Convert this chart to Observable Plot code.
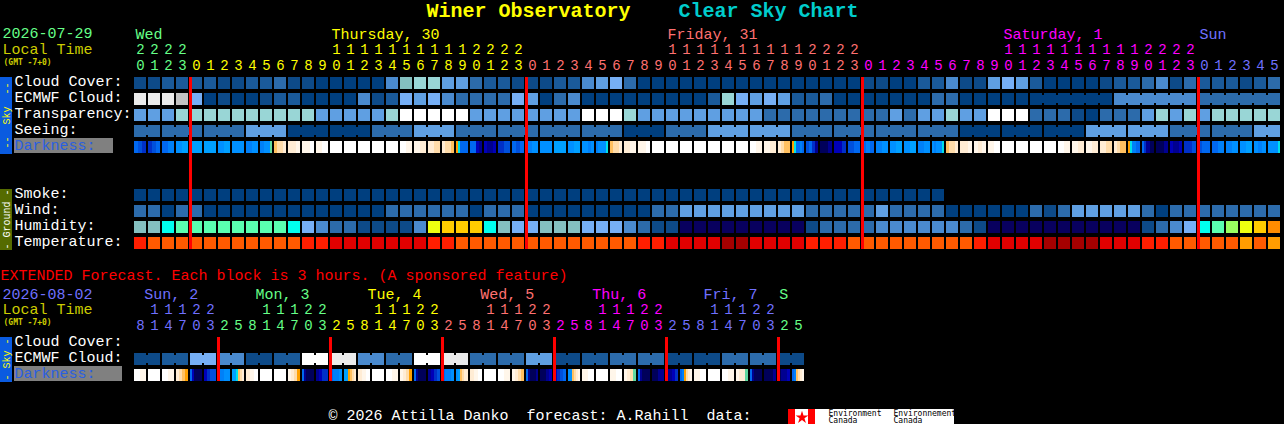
<!DOCTYPE html>
<html><head><meta charset="utf-8">
<script src="https://cdn.jsdelivr.net/npm/d3@7"></script>
<script src="https://cdn.jsdelivr.net/npm/@observablehq/plot@0.6"></script>
<style>
html,body{margin:0;padding:0;background:#000;overflow:hidden}
svg{display:block}
svg text{white-space:pre}
</style></head><body><div id="chart"></div>
<script>
// ---------- palettes ----------
const skyColors = ["#003f7f","#0d4a88","#1a5a9a","#2c6bab","#4a8ace","#5f9fe2","#76aff5","#84c0c0","#99d6d6","#c2c2c2","#ebebeb","#ffffff"];
const humidityColors = ["#08005e","#003f7f","#0d4a88","#2c6bab","#4a8ace","#5f9fe2","#76aff5","#84c0c0","#00ffee","#5affb0","#9aff60","#eeff10","#ffcb00","#ff8c00"];
const temperatureColors = ["#a50000","#e10000","#ff1e00","#ff5a00","#ff9c00"];
const darknessColors = ["#00005a","#000090","#0000b8","#0030c8","#0050dc","#0068f0","#0080f8","#0090ff","#00a0ff","#00e0e8","#60d8a0","#ffa000","#ffc060","#ffdcaa","#ffecd4","#fff6ea","#ffffff"];
const dayColors = {green:"#66ff88",yellow:"#ffff00",salmon:"#ff7070",magenta:"#ff00ff",blue:"#7070ff"};

// ---------- main forecast (one block per hour) ----------
const hours = [20,21,22,23,0,1,2,3,4,5,6,7,8,9,10,11,12,13,14,15,16,17,18,19,20,21,22,23,0,1,2,3,4,5,6,7,8,9,10,11,12,13,14,15,16,17,18,19,20,21,22,23,0,1,2,3,4,5,6,7,8,9,10,11,12,13,14,15,16,17,18,19,20,21,22,23,0,1,2,3,4,5];
const midnights = [4,28,52,76];
const hourColors = ["green","yellow","salmon","magenta","blue"];
const dayLabels = ["Wed","Thursday, 30","Friday, 31","Saturday, 1","Sun"];
const dayLabelCols = [0,14,38,62,76];

const cloudCover = [1,1,2,2,2,2,1,1,2,2, 3,1,1,0,0,0,0,0,4,7, 8,8,5,5,3,2,2,1,1,1, 2,2,4,5,6,3,0,0,0,0, 0,0,0,0,0,0,0,0,0,0, 0,0,1,1,0,0,2,2,4,1, 1,5,6,5,2,0,0,0,0,1, 2,2,3,4,1,3,2,2,2,1,2,3];
const ecmwfCloud = [10,10,10,9,6,0,1,0,0,1, 2,2,0,0,0,0,4,1,2,6, 5,6,4,3,3,3,3,6,5,0, 3,4,0,0,0,0,0,0,0,0, 0,2,8,6,5,6,5,2,2,3, 0,0,0,0,0,0,0,3,3,0, 0,0,0,0,0,0,0,0,0,0, 4,4,4,4,4,4,3,3,3,3,3,3];
const ecmwfJoinedFrom = [64,70,76];
const ecmwfJoinedLength = [6,6,6];
const transparency = [5,5,5,8,8,8,8,8,8,8, 8,8,8,5,5,5,5,5,8,11, 11,11,11,11,5,5,5,5,5,5, 5,5,11,11,11,8,5,5,5,5, 5,5,5,5,5,3,3,3,3,3, 3,3,3,3,5,3,5,5,8,5, 5,11,11,11,3,3,3,1,0,3, 3,3,5,8,5,8,5,8,8,8,8,8];
const seeingBlocks = [3,3,3,5,0,0,3,5,3,3,3,3,0,3,5,5,3,3,3,3,0,0,0,5,5,3,3,5];
const seeingBlockLengths = [2,3,3,3,3,3,3,3,3,3,3,3,3,3,3,3,3,3,3,3,3,3,3,3,3,3,3,2];
const darkness = [[5,4,3],[3,4,5],[5,6],[7,8],[8],[8],[7,8],[7],[6,7],[6,6,7,7,7,10],[12,13,13,14],[14,14,15],[15,15,16],[15,16],[16],[16],[16],[16],[16],[16,15],[15,14],[14,13],[14,13,13,12],[11,9,5,5,5,5],[5,5,2,1],[2,1,1,2],[3,4],[5,4,5],[6,7],[7],[8],[7,8],[7,7,6,7],[6,7,7,7,7,9],[12,13,13,14],[14,14,15,15],[15,15,16],[16],[16],[16],[16],[16],[16],[16],[16,15],[15,14],[14,13,12,12],[11,9,5,5,6,5],[4,5,3,1],[0,0,1],[2,2,3],[4,5],[5,6,5],[6,7],[7,8],[7,8],[6,7],[7,6,7,7,7,9],[12,13,13,14],[14,14,15],[15,14,15],[15,16],[16],[16],[16],[16],[16,15],[15,14],[15,14],[14,13],[14,13,12,12],[11,9,6,6,5,5],[5,3,1,1,0,0],[0,0,1],[2,1,1,2],[3,3,4],[4,5,5],[5,6],[6,7],[7,8],[7,6,7],[7,7,7,7,7,9]];
const smoke = [0,0,0,0,0,0,0,0,0,0, 0,0,0,0,0,0,0,0,0,0, 0,0,0,0,0,0,0,0,0,0, 0,0,0,0,0,0,0,0,0,0, 0,0,0,0,0,0,0,0,0,0, 0,0,0,0,0,0,0,0];
const wind = [3,3,0,3,3,0,0,0,0,0, 0,0,0,0,0,0,0,0,3,3, 3,3,3,3,0,3,3,3,0,0, 0,0,0,0,0,0,0,3,3,5, 5,5,5,5,5,5,5,5,3,3, 3,3,3,5,3,3,3,3,0,0, 0,0,0,0,3,1,3,5,5,5, 5,5,3,0,3,3,3,3,3,3,3,3];
const humidity = [7,7,8,9,9,9,9,9,9,9, 9,8,6,4,3,3,2,2,2,2, 4,11,12,12,12,8,7,6,6,7, 7,7,6,6,6,4,3,2,2,0, 0,0,0,0,0,0,0,0,2,3, 3,3,3,4,4,4,4,4,4,3, 2,0,0,0,0,0,0,0,0,0, 0,0,2,3,4,6,8,9,10,11,12,13];
const temperature = [2,3,3,3,3,3,3,3,3,3, 3,3,2,2,1,1,1,1,1,1, 1,2,2,3,3,3,3,3,3,3, 3,3,3,3,3,3,2,2,1,1, 1,1,0,0,1,1,1,1,2,2, 2,3,3,3,3,3,3,3,3,3, 2,1,1,1,1,0,0,0,0,1, 1,1,2,2,3,3,3,3,3,4,3,4];

// ---------- extended forecast (one block per 3 hours) ----------
const extHours = [8,11,14,17,20,23,2,5,8,11,14,17,20,23,2,5,8,11,14,17,20,23,2,5,8,11,14,17,20,23,2,5,8,11,14,17,20,23,2,5,8,11,14,17,20,23,2,5];
const extMidnights = [6,14,22,30,38,46];
const extHourColors = ["blue","green","yellow","salmon","magenta","blue","green"];
const extDayLabels = ["Sun, 2","Mon, 3","Tue, 4","Wed, 5","Thu, 6","Fri, 7","S"];
const extDayLabelCols = [0.7,8.65,16.65,24.7,32.7,40.65,46.05];
const extEcmwf = [1,2,6,4,1,2,11,10,4,3,11,10,3,3,5,1,2,3,3,1,1,3,3,1];
const extDarkness = [[16,15],[16],[16,15],[14,13,12,11],[5,2,0,0,0,0],[2,3,4,4],[6,6,7,7],[8,8,9,12,13,14],[14,15,16],[16],[16],[15,14,13,11],[5,1,0,0,0,0],[1,2,3,3],[5,6,6,7],[8,8,11,12,13,14],[14,15,16],[16],[16,15],[15,14,13,11],[5,1,0,0,0,0],[1,2,3,4],[5,6,6,7],[7,8,12,13,14,14],[14,15,16],[16],[16,15],[15,14,13,12],[5,1,0,0,0,1],[0,0,1,2],[2,3,4,5],[7,7,12,13,14,15],[15,16],[16],[15,16],[15,14,13,10],[5,1,0,0,0,0],[0,0,1,1],[1,1,2,3],[5,6,11,13,14,15],[15,16],[16],[16,15],[15,14,14,10],[5,1,0,0,0,0],[0,0,0,1],[0,1,1,2],[5,6,12,13,14,15]];

// ---------- text ----------
const rowLabels = ["Cloud Cover:","ECMWF Cloud:","Transparency:","Seeing:","Darkness:","Smoke:","Wind:","Humidity:","Temperature:"];
const extRowLabels = ["Cloud Cover:","ECMWF Cloud:","Darkness:"];
const skyRows = ["Cloud Cover:","ECMWF Cloud:","Transparency:","Seeing:","Darkness:"];
const groundRows = ["Smoke:","Wind:","Humidity:","Temperature:"];

// ---------- helpers ----------
const MONO = "Liberation Mono";
const LABEL_SIZE = 15;
const COL = 14, CELL = 12;
const LEFT = 134;
const crisp = {shapeRendering:"crispEdges"};

const cells = (row, values, colors) => values.map((v,col)=>({row,col,fill:colors[v]}));
const cellMark = data => Plot.barX(data,{x1:"col",x2:d=>d.col+1,y:"row",fill:"fill",insetRight:COL-CELL,...crisp});
const slices = (row, columns) => columns.flatMap((list,col)=>list.map((c,j)=>({
  row, x1:col+(j/list.length)*(CELL/COL), x2:col+((j+1)/list.length)*(CELL/COL), fill:darknessColors[c]})));
const sliceMark = data => Plot.barX(data,{x1:"x1",x2:"x2",y:"row",fill:"fill",...crisp});
// connector between neighbouring blocks of one forecast period
const bridgeMark = (row, starts, lengths, values, colors) => Plot.barX(
  starts.flatMap((s,i)=>d3.range(s,s+lengths[i]-1).map(col=>({row,col,fill:colors[values[col]]}))),
  {x1:"col",x2:d=>d.col+1,y:"row",fill:"fill",insetLeft:CELL,insetTop:2,insetBottom:2,...crisp});
// bar drawn in the left gutter
const gutter = (row,from,to,fill,opts={}) => Plot.barX([row],{x1:()=>0,x2:()=>0,y:d=>d,fill,insetLeft:from-LEFT,insetRight:LEFT-to,...crisp,...opts});
const contiguous = (rows,bottom,make) => rows.map((r,i)=>make(r,{insetTop:i?-2:0,insetBottom:i<rows.length-1?-2:bottom}));
// midnight marker: a red line through one row
const midnightMark = (cols,r,o) => Plot.barX(cols,{x1:d=>d,x2:d=>d,y:()=>r,fill:"#ff0000",insetLeft:-1,insetRight:-2,...crisp,...o});
const text = (rows,opts) => Plot.text(rows,{fontFamily:MONO,fontSize:LABEL_SIZE,textAnchor:"start",lineAnchor:"middle",...opts});
const leftText = (label,row,fill,x,opts={}) => text([label],{x:()=>0,dx:x-LEFT,y:()=>row,text:d=>d,fill,...opts});
const hourMarks = (hrs,mids,colors) => [
  text(hrs,{x:(d,i)=>i,dx:CELL/2,y:()=>"ones",text:d=>String(d%10),textAnchor:"middle",dy:-1.5,fontSize:14,fill:(d,i)=>dayColors[colors[d3.bisectRight(mids,i)]]}),
  text(hrs,{filter:d=>d>=10,x:(d,i)=>i,dx:CELL/2,y:()=>"tens",text:d=>String(Math.floor(d/10)),textAnchor:"middle",dy:-1.5,fontSize:14,fill:(d,i)=>dayColors[colors[d3.bisectRight(mids,i)]]})
];
const gmt = (row,dy) => leftText("(GMT -7+0)",row,"#cccc00",3,{fontSize:8,fontWeight:"bold",fontFamily:"DejaVu Sans Mono",dy});
const gridOpts = {x:{axis:null},color:{type:"identity"},style:{background:"#000"}};

// ---------- main panel ----------
const mainRows = ["title","days","tens","ones",...skyRows,"gap1","gap2",...groundRows];
const mainPlot = Plot.plot({
  ...gridOpts,
  width:1284,height:265,marginLeft:LEFT,marginRight:2,marginTop:11,marginBottom:14,
  x:{axis:null,domain:[0,82]},
  y:{axis:null,type:"band",domain:mainRows,paddingInner:0.25,paddingOuter:0.125,round:false},
  marks:[
    text(["Winer Observatory"],{x:()=>0,dx:426-LEFT,y:()=>"title",dy:-9,text:d=>d,fill:"#ffff00",fontSize:20,fontWeight:"bold"}),
    text(["Clear Sky Chart"],{x:()=>0,dx:678-LEFT,y:()=>"title",dy:-9,text:d=>d,fill:"#00cccc",fontSize:20,fontWeight:"bold"}),
    leftText("2026-07-29","days",dayColors.green,2,{dy:-2}),
    leftText("Local Time","tens","#cccc00",2,{dy:-2.5}),
    gmt("ones",-5),
    text(dayLabels,{x:(d,i)=>dayLabelCols[i],dx:1,y:()=>"days",dy:-1.5,text:d=>d,fill:(d,i)=>dayColors[hourColors[i]]}),
    ...hourMarks(hours,midnights,hourColors),

    ...contiguous(skyRows,-1,(r,o)=>gutter(r,0,12,"#0a5be0",o)),
    ...contiguous(groundRows,-1,(r,o)=>gutter(r,0,12,"#556b00",o)),
    text(["--  Sky  --"],{x:()=>0,dx:6-LEFT,y:()=>"Transparency:",text:d=>d,rotate:-90,textAnchor:"middle",fill:"#ffff00",fontSize:10}),
    text(["- Ground -"],{x:()=>0,dx:6-LEFT,y:()=>"Wind:",dy:8,text:d=>d,rotate:-90,textAnchor:"middle",fill:"#ffffff",fontSize:10}),
    gutter("Darkness:",14,113,"#808080",{insetTop:-3,insetBottom:0}),
    ...rowLabels.map(r=>leftText(r,r,r==="Darkness:"?"#2a5fe0":"#ffffff",14,{dy:-2.5})),

    cellMark(cells("Cloud Cover:",cloudCover,skyColors)),
    cellMark(cells("ECMWF Cloud:",ecmwfCloud,skyColors)),
    bridgeMark("ECMWF Cloud:",ecmwfJoinedFrom,ecmwfJoinedLength,ecmwfCloud,skyColors),
    cellMark(cells("Transparency:",transparency,skyColors)),
    (()=>{ const seeing = seeingBlocks.flatMap((v,i)=>d3.range(seeingBlockLengths[i]).map(()=>v)); return cellMark(cells("Seeing:",seeing,skyColors)); })(),
    (()=>{ const seeing = seeingBlocks.flatMap((v,i)=>d3.range(seeingBlockLengths[i]).map(()=>v));
           const starts = d3.cumsum([0,...seeingBlockLengths.slice(0,-1)]);
           return bridgeMark("Seeing:",[...starts],seeingBlockLengths,seeing,skyColors); })(),
    sliceMark(slices("Darkness:",darkness)),
    cellMark(cells("Smoke:",smoke,skyColors)),
    cellMark(cells("Wind:",wind,skyColors)),
    cellMark(cells("Humidity:",humidity,humidityColors)),
    cellMark(cells("Temperature:",temperature,temperatureColors)),

    ...contiguous([...skyRows,"gap1","gap2",...groundRows],0,(r,o)=>midnightMark(midnights,r,o))
  ]
});

// ---------- extended panel ----------
const extRows = ["notice","days","tens","ones",...extRowLabels,"blank","footer"];
const extStarts = d3.range(0,48,2);
const extEcmwfCols = extEcmwf.flatMap(v=>[v,v]);
const extPlot = Plot.plot({
  ...gridOpts,
  width:1284,height:159,marginLeft:LEFT,marginRight:478,marginTop:6,marginBottom:9,
  x:{axis:null,domain:[0,48]},
  y:{axis:null,type:"band",domain:extRows,paddingInner:0.25,paddingOuter:0.125,round:false},
  marks:[
    leftText("EXTENDED Forecast. Each block is 3 hours. (A sponsored feature)","notice","#ff0000",0,{dy:-4}),
    leftText("2026-08-02","days",dayColors.blue,2,{dy:-1.5}),
    leftText("Local Time","tens","#cccc00",2,{dy:-2}),
    gmt("ones",-5),
    text(extDayLabels,{x:(d,i)=>extDayLabelCols[i],y:()=>"days",dy:-1.5,text:d=>d,fill:(d,i)=>dayColors[extHourColors[i]]}),
    ...hourMarks(extHours,extMidnights,extHourColors),

    ...contiguous(extRowLabels,-1,(r,o)=>gutter(r,0,12,"#0a5be0",o)),
    text(["- Sky -"],{x:()=>0,dx:6-LEFT,y:()=>"ECMWF Cloud:",text:d=>d,rotate:-90,textAnchor:"middle",fill:"#ffff00",fontSize:10}),
    gutter("Darkness:",14,122,"#808080",{insetTop:-3,insetBottom:0}),
    ...extRowLabels.map(r=>leftText(r,r,r==="Darkness:"?"#2a5fe0":"#ffffff",14,{dy:-2.5})),

    cellMark(cells("ECMWF Cloud:",extEcmwfCols,skyColors)),
    bridgeMark("ECMWF Cloud:",extStarts,extStarts.map(()=>2),extEcmwfCols,skyColors),
    sliceMark(slices("Darkness:",extDarkness)),
    ...contiguous(extRowLabels,0,(r,o)=>midnightMark(extMidnights,r,o)),

    leftText("\u00a9 2026 Attilla Danko  forecast: A.Rahill  data:","footer","#ffffff",328,{dy:7.5}),
    gutter("footer",788,954,"#ffffff",{insetTop:8,insetBottom:-11}),
    gutter("footer",788,795,"#ff0000",{insetTop:8,insetBottom:-11}),
    gutter("footer",808,815,"#ff0000",{insetTop:8,insetBottom:-11}),
    Plot.dot(["footer"],{x:()=>0,dx:801.5-LEFT,y:d=>d,dy:10,r:4,symbol:"star",fill:"#ff0000"}),
    leftText("Environment","footer","#000000",828,{fontSize:8,dy:6,fontFamily:"DejaVu Sans Mono"}),
    leftText("Canada","footer","#000000",828,{fontSize:8,dy:13,fontFamily:"DejaVu Sans Mono"}),
    leftText("Environnement","footer","#000000",893,{fontSize:8,dy:6,fontFamily:"DejaVu Sans Mono"}),
    leftText("Canada","footer","#000000",893,{fontSize:8,dy:13,fontFamily:"DejaVu Sans Mono"})
  ]
});

document.getElementById("chart").append(mainPlot,extPlot);
</script></body></html>
